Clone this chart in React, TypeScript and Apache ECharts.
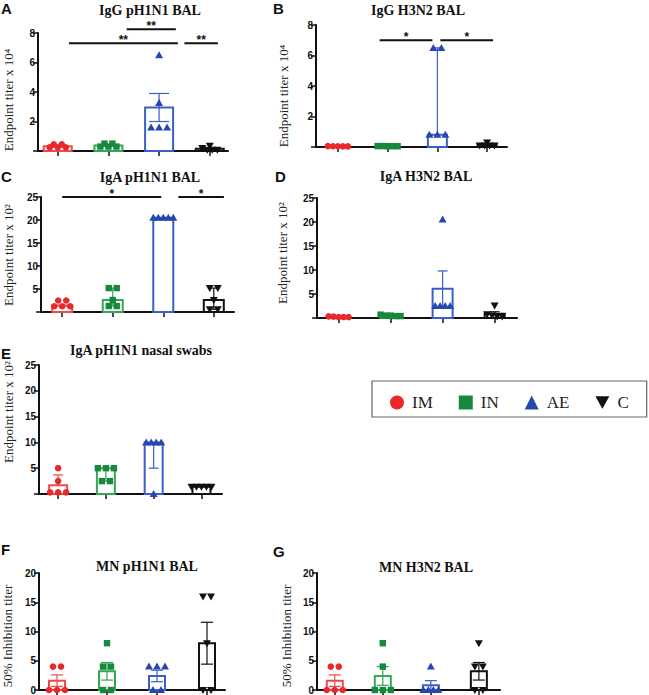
import React, { useEffect, useRef } from 'react';
import * as echarts from 'echarts';

const groups = ['IM', 'IN', 'AE', 'C'];
const groupColors = ['#e8282b', '#17893c', '#2747b0', '#111111'];
const barColors = ['#ef4a4a', '#35a657', '#3a5fc6', '#111111'];

// A: IgG pH1N1 BAL (x 10^4)
const A_IM = [0.45, 0.45, 0.25, 0.25, 0.25];
const A_IN = [0.5, 0.5, 0.3, 0.3, 0.3];
const A_AE = [6.5, 3.25, 1.6, 1.6, 1.6];
const A_C = [0.35, 0.2, 0.08, 0.08, 0.08];
const A_bar = [0.33, 0.38, 2.95, 0.16];
const A_errLow = [0.29, 0.33, 2.0, 0.1];
const A_errHigh = [0.37, 0.43, 3.9, 0.22];
const A_sigX1 = [0.22, 1.36, 2.5];
const A_sigX2 = [2.37, 2.33, 3.16];
const A_sigY = [7.3, 8.25, 7.3];
const A_sigLabel = ['**', '**', '**'];

// B: IgG H3N2 BAL (x 10^4)
const B_IM = [0.06, 0.05, 0.05, 0.04, 0.04];
const B_IN = [0.06, 0.06, 0.05, 0.05, 0.05];
const B_AE = [6.5, 6.5, 0.8, 0.8, 0.8];
const B_C = [0.3, 0.1, 0.1, 0.1, 0.1];
const B_bar = [0.05, 0.05, 0.8, 0.12];
const B_errLow = [0.05, 0.05, 0.8, 0.12];
const B_errHigh = [0.05, 0.05, 6.5, 0.12];
const B_sigX1 = [0.84, 2.06];
const B_sigX2 = [1.9, 3.12];
const B_sigY = [7.0, 7.0];
const B_sigLabel = ['*', '*'];

// C: IgA pH1N1 BAL (x 10^2)
const C_IM = [2.5, 2.5, 1.25, 1.25, 1.25];
const C_IN = [5.2, 5.2, 2.6, 1.3, 1.3];
const C_AE = [20.5, 20.5, 20.5, 20.5, 20.5];
const C_C = [5.2, 5.2, 2.6, 0.6, 0.6];
const C_bar = [1.4, 2.6, 20.5, 2.6];
const C_errLow = [1.4, 1.3, 20.5, 0.6];
const C_errHigh = [1.4, 5.2, 20.5, 5.2];
const C_sigX1 = [0, 2.3];
const C_sigX2 = [1.96, 3.2];
const C_sigY = [25, 25];
const C_sigLabel = ['*', '*'];

// D: IgA H3N2 BAL (x 10^2)
const D_IM = [0.35, 0.3, 0.2, 0.2, 0.2];
const D_IN = [0.7, 0.5, 0.5, 0.4, 0.4];
const D_AE = [20.5, 2.5, 2.5, 2.5, 2.5];
const D_C = [2.6, 0.8, 0.5, 0.3, 0.3];
const D_bar = [0.25, 0.5, 6.1, 0.9];
const D_errLow = [0.25, 0.5, 2.4, 0.9];
const D_errHigh = [0.25, 0.5, 9.8, 1.3];

// E: IgA pH1N1 nasal swabs (x 10^2)
const E_IM = [5, 2.5, 0.3, 0.3, 0.3];
const E_IN = [5, 5, 5, 2.5, 2.5];
const E_AE = [10, 10, 10, 10, 0];
const E_C = [1.4, 1.4, 1.4, 1.4, 1.4];
const E_bar = [1.7, 5, 10, 1.4];
const E_errLow = [1.7, 2.5, 5, 1.4];
const E_errHigh = [3.7, 5, 10, 1.4];

// F: MN pH1N1 BAL
const F_IM = [4, 4, 0, 0, 0];
const F_IN = [8, 4, 4, 0, 0];
const F_AE = [4, 4, 4, 0, 0];
const F_C = [16, 16, 8, 0, 0];
const F_bar = [1.6, 3.2, 2.4, 8];
const F_errLow = [0.62, 1.7, 1.42, 4.42];
const F_errHigh = [2.58, 4.7, 3.38, 11.58];

// G: MN H3N2 BAL
const G_IM = [4, 4, 0, 0, 0];
const G_IN = [8, 4, 0, 0, 0];
const G_AE = [4, 0, 0, 0, 0];
const G_C = [8, 4, 4, 0, 0];
const G_bar = [1.6, 2.4, 0.8, 3.2];
const G_errLow = [0.62, 0.8, 0, 1.7];
const G_errHigh = [2.58, 4.0, 1.6, 4.7];

const Y_LABEL_E4 = 'Endpoint titer x 10⁴';
const Y_LABEL_E2 = 'Endpoint titer x 10²';
const Y_LABEL_MN = '50% Inhibition titer';

type Panel = {
  letter: string; title: string; yName: string;
  values: number[][]; bar: number[]; errLow: number[]; errHigh: number[];
  sig: { x1: number[]; x2: number[]; y: number[]; label: string[] } | null;
  yMax: number; yInterval: number; showZero: boolean;
  grid: { left: number; top: number; width: number; height: number };
  xMin: number; xMax: number; barW: number; capW: number;
  titlePos: [number, number]; letterPos: [number, number]; yNamePos: [number, number];
};

const panels: Panel[] = [
  {
    letter: 'A', title: 'IgG pH1N1 BAL', yName: Y_LABEL_E4,
    values: [A_IM, A_IN, A_AE, A_C], bar: A_bar, errLow: A_errLow, errHigh: A_errHigh,
    sig: { x1: A_sigX1, x2: A_sigX2, y: A_sigY, label: A_sigLabel },
    yMax: 8, yInterval: 2, showZero: false,
    grid: { left: 38, top: 33, width: 190, height: 118 }, xMin: -0.39, xMax: 3.36, barW: 28, capW: 20,
    titlePos: [150, 10], letterPos: [1, 1], yNamePos: [8, 100],
  },
  {
    letter: 'B', title: 'IgG H3N2 BAL', yName: Y_LABEL_E4,
    values: [B_IM, B_IN, B_AE, B_C], bar: B_bar, errLow: B_errLow, errHigh: B_errHigh,
    sig: { x1: B_sigX1, x2: B_sigX2, y: B_sigY, label: B_sigLabel },
    yMax: 8, yInterval: 2, showZero: false,
    grid: { left: 316, top: 25, width: 191, height: 122 }, xMin: -0.44, xMax: 3.4, barW: 19, capW: 10,
    titlePos: [418, 10], letterPos: [273, 1], yNamePos: [283, 96],
  },
  {
    letter: 'C', title: 'IgA pH1N1 BAL', yName: Y_LABEL_E2,
    values: [C_IM, C_IN, C_AE, C_C], bar: C_bar, errLow: C_errLow, errHigh: C_errHigh,
    sig: { x1: C_sigX1, x2: C_sigX2, y: C_sigY, label: C_sigLabel },
    yMax: 25, yInterval: 5, showZero: false,
    grid: { left: 41, top: 197, width: 193, height: 115 }, xMin: -0.42, xMax: 3.4, barW: 20, capW: 12,
    titlePos: [150, 177], letterPos: [1, 169], yNamePos: [8, 255],
  },
  {
    letter: 'D', title: 'IgA H3N2 BAL', yName: Y_LABEL_E2,
    values: [D_IM, D_IN, D_AE, D_C], bar: D_bar, errLow: D_errLow, errHigh: D_errHigh,
    sig: null,
    yMax: 25, yInterval: 5, showZero: false,
    grid: { left: 317, top: 198, width: 200, height: 120 }, xMin: -0.415, xMax: 3.43, barW: 20, capW: 10,
    titlePos: [426, 176], letterPos: [275, 169], yNamePos: [282, 253],
  },
  {
    letter: 'E', title: 'IgA pH1N1 nasal swabs', yName: Y_LABEL_E2,
    values: [E_IM, E_IN, E_AE, E_C], bar: E_bar, errLow: E_errLow, errHigh: E_errHigh,
    sig: null,
    yMax: 25, yInterval: 5, showZero: false,
    grid: { left: 39, top: 365, width: 183, height: 129 }, xMin: -0.4, xMax: 3.43, barW: 18, capW: 10,
    titlePos: [141, 350], letterPos: [1, 346], yNamePos: [8, 412],
  },
  {
    letter: 'F', title: 'MN pH1N1 BAL', yName: Y_LABEL_MN,
    values: [F_IM, F_IN, F_AE, F_C], bar: F_bar, errLow: F_errLow, errHigh: F_errHigh,
    sig: null,
    yMax: 20, yInterval: 5, showZero: true,
    grid: { left: 39, top: 573, width: 186, height: 117 }, xMin: -0.36, xMax: 3.36, barW: 16, capW: 12,
    titlePos: [147, 566], letterPos: [1, 542], yNamePos: [7, 636],
  },
  {
    letter: 'G', title: 'MN H3N2 BAL', yName: Y_LABEL_MN,
    values: [G_IM, G_IN, G_AE, G_C], bar: G_bar, errLow: G_errLow, errHigh: G_errHigh,
    sig: null,
    yMax: 20, yInterval: 5, showZero: true,
    grid: { left: 317, top: 573, width: 183, height: 117 }, xMin: -0.37, xMax: 3.44, barW: 16, capW: 12,
    titlePos: [426, 567], letterPos: [273, 544], yNamePos: [286, 636],
  },
];

function jitterOffsets(vals: number[], yMax: number): number[] {
  const tol = yMax * 0.018;
  const idx = vals.map((_, i) => i).sort((a, b) => vals[b] - vals[a]);
  const clusters: number[][] = [];
  let cur: number[] = [idx[0]];
  for (let k = 1; k < idx.length; k++) {
    if (Math.abs(vals[idx[k]] - vals[cur[cur.length - 1]]) <= tol) cur.push(idx[k]);
    else { clusters.push(cur); cur = [idx[k]]; }
  }
  clusters.push(cur);
  const off = new Array(vals.length).fill(0);
  clusters.forEach((c) => {
    const n = c.length;
    const step = n >= 4 ? 5 : 8;
    c.forEach((pi, j) => { off[pi] = (j - (n - 1) / 2) * step; });
  });
  return off;
}

function marker(g: number, x: number, y: number, color: string) {
  if (g === 0) return { type: 'circle', shape: { cx: x, cy: y, r: 3.3 }, style: { fill: color } };
  if (g === 1) return { type: 'rect', shape: { x: x - 3.2, y: y - 3.2, width: 6.4, height: 6.4 }, style: { fill: color } };
  if (g === 2) return { type: 'polygon', shape: { points: [[x, y - 4], [x + 4, y + 3], [x - 4, y + 3]] }, style: { fill: color } };
  return { type: 'polygon', shape: { points: [[x - 4, y - 3], [x + 4, y - 3], [x, y + 4]] }, style: { fill: color } };
}

function buildOption() {
  const grid = panels.map((p) => ({ ...p.grid }));
  const xAxis = panels.map((p, i) => ({
    type: 'value', gridIndex: i, min: p.xMin, max: p.xMax,
    axisLine: { show: true, onZero: false, lineStyle: { color: '#111', width: 2 } },
    axisTick: { show: true, customValues: [0, 1, 2, 3], length: 5, lineStyle: { color: '#111', width: 1.5 } },
    axisLabel: { show: false },
    splitLine: { show: false },
  }));
  const yAxis = panels.map((p, i) => ({
    type: 'value', gridIndex: i, min: 0, max: p.yMax, interval: p.yInterval,
    axisLine: { show: true, onZero: false, lineStyle: { color: '#111', width: 2 } },
    axisTick: { show: true, length: 5, lineStyle: { color: '#111', width: 1.5 } },
    axisLabel: {
      fontFamily: 'Liberation Sans', fontWeight: 'bold', fontSize: 10, color: '#111', margin: 3,
      formatter: (v: number) => (v === 0 && !p.showZero ? '' : String(v)),
    },
    splitLine: { show: false },
  }));

  const series: any[] = [];
  panels.forEach((p, i) => {
    groups.forEach((gname, g) => {
      const color = groupColors[g];
      const bcolor = barColors[g];
      const vals = p.values[g];
      const offs = jitterOffsets(vals, p.yMax);
      series.push({
        type: 'custom', name: gname, xAxisIndex: i, yAxisIndex: i,
        itemStyle: { color }, clip: false,
        data: [[g, p.bar[g]]],
        renderItem: (_params: any, api: any) => {
          const gx = api.value(0);
          const base = api.coord([gx, 0]);
          const top = api.coord([gx, api.value(1)]);
          const cx = base[0];
          const children: any[] = [];
          children.push({
            type: 'rect',
            shape: { x: cx - p.barW / 2, y: top[1], width: p.barW, height: Math.max(base[1] - top[1], 0.5) },
            style: { fill: 'none', stroke: bcolor, lineWidth: 2 },
          });
          const hi = api.coord([gx, p.errHigh[g]])[1];
          const lo = api.coord([gx, p.errLow[g]])[1];
          if (Math.abs(hi - lo) > 0.5) {
            children.push({ type: 'line', shape: { x1: cx, y1: hi, x2: cx, y2: lo }, style: { stroke: bcolor, lineWidth: 1.2 } });
            if (Math.abs(hi - top[1]) > 0.5)
              children.push({ type: 'line', shape: { x1: cx - p.capW / 2, y1: hi, x2: cx + p.capW / 2, y2: hi }, style: { stroke: bcolor, lineWidth: 1.2 } });
            if (Math.abs(lo - top[1]) > 0.5 && Math.abs(lo - base[1]) > 0.5)
              children.push({ type: 'line', shape: { x1: cx - p.capW / 2, y1: lo, x2: cx + p.capW / 2, y2: lo }, style: { stroke: bcolor, lineWidth: 1.2 } });
          }
          vals.forEach((v, k) => {
            const pt = api.coord([gx, v]);
            children.push(marker(g, pt[0] + offs[k], pt[1], color));
          });
          return { type: 'group', children };
        },
      });
    });
    if (p.sig) {
      const s = p.sig;
      series.push({
        type: 'custom', name: 'sig' + i, xAxisIndex: i, yAxisIndex: i, clip: false,
        data: s.x1.map((x1, k) => [x1, s.x2[k], s.y[k]]),
        renderItem: (params: any, api: any) => {
          const p1 = api.coord([api.value(0), api.value(2)]);
          const p2 = api.coord([api.value(1), api.value(2)]);
          return {
            type: 'group',
            children: [
              { type: 'line', shape: { x1: p1[0], y1: p1[1], x2: p2[0], y2: p2[1] }, style: { stroke: '#111', lineWidth: 2 } },
              {
                type: 'text', x: (p1[0] + p2[0]) / 2, y: p1[1] - 3,
                style: { text: s.label[params.dataIndex], fill: '#111', fontSize: 12, fontWeight: 'bold', fontFamily: 'Liberation Sans', align: 'center', verticalAlign: 'middle' },
              },
            ],
          };
        },
      });
    }
  });

  const graphic: any[] = [];
  panels.forEach((p) => {
    graphic.push({
      type: 'text', x: p.titlePos[0], y: p.titlePos[1],
      style: { text: p.title, fill: '#111', fontSize: 14, fontWeight: 'bold', fontFamily: 'Liberation Serif', align: 'center', verticalAlign: 'middle' },
    });
    graphic.push({
      type: 'text', x: p.letterPos[0], y: p.letterPos[1],
      style: { text: p.letter, fill: '#111', fontSize: 15, fontWeight: 'bold', fontFamily: 'Liberation Sans', align: 'left', verticalAlign: 'top' },
    });
    graphic.push({
      type: 'text', x: p.yNamePos[0], y: p.yNamePos[1], rotation: Math.PI / 2,
      style: { text: p.yName, fill: '#222', fontSize: 13, fontFamily: 'Liberation Serif', align: 'center', verticalAlign: 'middle' },
    });
  });

  return {
    animation: false,
    backgroundColor: '#ffffff',
    grid, xAxis, yAxis, series, graphic,
    legend: {
      left: 372, top: 381, orient: 'horizontal',
      padding: [13, 18, 6, 18],
      borderColor: '#666', borderWidth: 1.2,
      itemWidth: 14, itemHeight: 14, itemGap: 26,
      selectedMode: false,
      textStyle: { fontFamily: 'Liberation Serif', fontSize: 17, color: '#222', padding: [0, 0, 0, 3] },
      data: [
        { name: 'IM', icon: 'circle' },
        { name: 'IN', icon: 'rect' },
        { name: 'AE', icon: 'triangle' },
        { name: 'C', icon: 'path://M0,0L10,0L5,9Z' },
      ],
    },
  };
}

export default function App() {
  const ref = useRef<HTMLDivElement>(null);
  useEffect(() => {
    if (!ref.current) return;
    const chart = echarts.init(ref.current, undefined, { renderer: 'svg' });
    chart.setOption(buildOption() as any);
    return () => chart.dispose();
  }, []);
  return <div ref={ref} style={{ position: 'fixed', left: 0, top: 0, width: 649, height: 695, background: '#fff' }} />;
}
